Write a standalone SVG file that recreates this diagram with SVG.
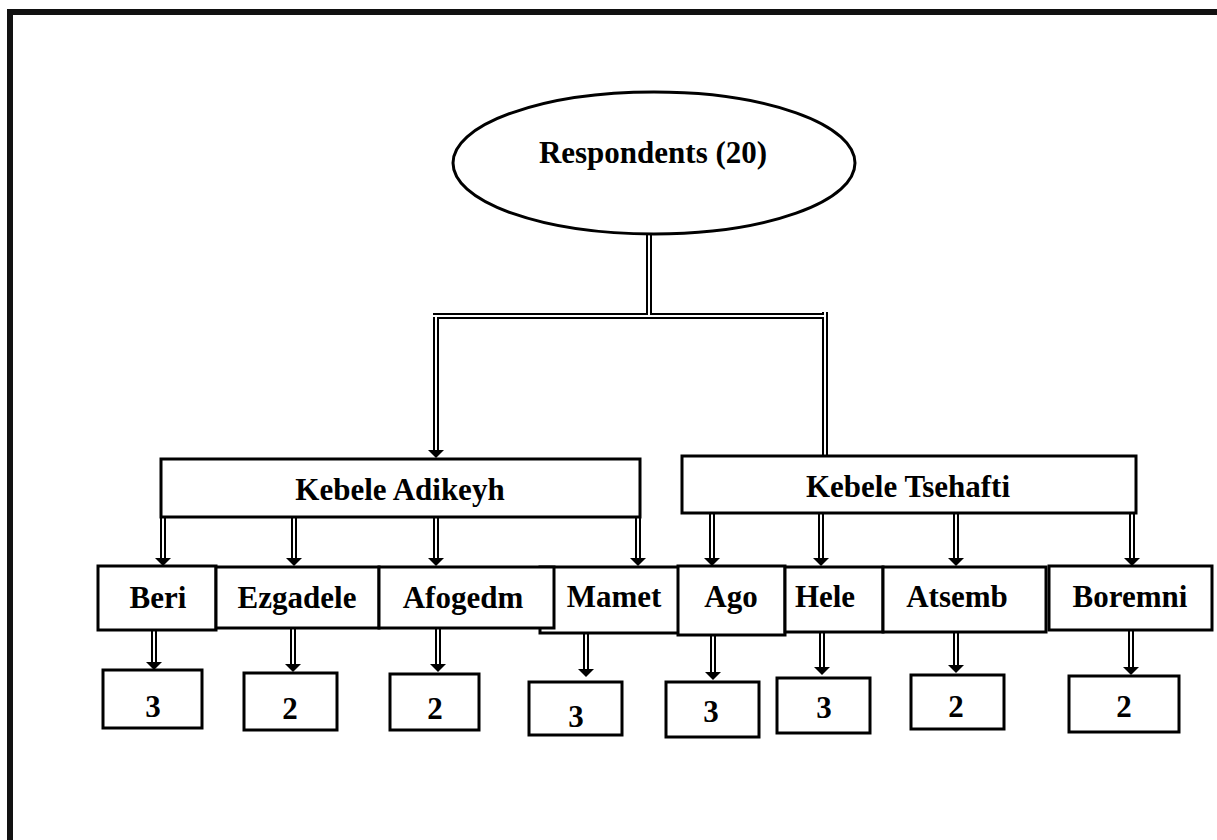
<svg xmlns="http://www.w3.org/2000/svg" width="1217" height="840" viewBox="0 0 1217 840">
<defs>
<style>
.frame{fill:none;stroke:#111;stroke-width:6}
.box{fill:#fff;stroke:#000;stroke-width:3}
.ell{fill:#fff;stroke:#000;stroke-width:3}
.lbl{font-family:"Liberation Serif","Times New Roman",serif;font-weight:bold;font-size:31px;fill:#000;text-anchor:middle}
.dlo{fill:none;stroke:#000;stroke-width:6}
.dli{fill:none;stroke:#fff;stroke-width:2}
.ah{fill:#000}
</style>
</defs>
<rect width="1217" height="840" fill="#fff"/>
<path class="frame" d="M10,845 V12 H1222"/>

<g id="connectors">
  <path class="dlo" d="M649,234 V316 M433,316 H826 M436,316 V450 M825,312 V456"/>
  <path class="dlo" d="M163,517 V558 M294,517 V558 M436,517 V558 M638,517 V558 M712,513 V558 M821,513 V558 M956,513 V558 M1132,513 V558"/>
  <path class="dlo" d="M154,630 V662 M293,628 V664 M438,628 V664 M586,633 V669 M713,635 V672 M822,632 V667 M956,632 V665 M1131,630 V667"/>
  <path class="dli" d="M649,234 V316 M433,316 H826 M436,316 V450 M825,312 V456"/>
  <path class="dli" d="M163,517 V558 M294,517 V558 M436,517 V558 M638,517 V558 M712,513 V558 M821,513 V558 M956,513 V558 M1132,513 V558"/>
  <path class="dli" d="M154,630 V662 M293,628 V664 M438,628 V664 M586,633 V669 M713,635 V672 M822,632 V667 M956,632 V665 M1131,630 V667"/>
  <polygon class="ah" points="428,450 444,450 436,458"/>
  <polygon class="ah" points="155,558 171,558 163,566"/>
  <polygon class="ah" points="286,558 302,558 294,566"/>
  <polygon class="ah" points="428,558 444,558 436,566"/>
  <polygon class="ah" points="630,558 646,558 638,566"/>
  <polygon class="ah" points="704,558 720,558 712,566"/>
  <polygon class="ah" points="813,558 829,558 821,566"/>
  <polygon class="ah" points="948,558 964,558 956,566"/>
  <polygon class="ah" points="1124,558 1140,558 1132,566"/>
  <polygon class="ah" points="146,662 162,662 154,670"/>
  <polygon class="ah" points="285,664 301,664 293,672"/>
  <polygon class="ah" points="430,664 446,664 438,672"/>
  <polygon class="ah" points="578,669 594,669 586,677"/>
  <polygon class="ah" points="705,672 721,672 713,680"/>
  <polygon class="ah" points="814,667 830,667 822,675"/>
  <polygon class="ah" points="948,665 964,665 956,673"/>
  <polygon class="ah" points="1123,667 1139,667 1131,675"/>
</g>

<g id="respondents">
  <ellipse class="ell" cx="654" cy="163" rx="201" ry="71"/>
  <text class="lbl" x="653" y="163">Respondents (20)</text>
</g>
<g id="kebele-adikeyh">
  <rect class="box" x="161" y="459" width="479" height="58"/>
  <text class="lbl" x="400" y="500">Kebele Adikeyh</text>
</g>
<g id="kebele-tsehafti">
  <rect class="box" x="682" y="456" width="454" height="57"/>
  <text class="lbl" x="908" y="497">Kebele Tsehafti</text>
</g>

<g id="mamet">
  <rect class="box" x="540" y="567" width="140" height="66"/>
  <text class="lbl" x="614" y="607">Mamet</text>
</g>
<g id="beri">
  <rect class="box" x="98" y="566" width="118" height="64"/>
  <text class="lbl" x="158" y="608">Beri</text>
</g>
<g id="ezgadele">
  <rect class="box" x="216" y="567" width="163" height="61"/>
  <text class="lbl" x="297" y="608">Ezgadele</text>
</g>
<g id="afogedm">
  <rect class="box" x="379" y="567" width="175" height="61"/>
  <text class="lbl" x="463" y="608">Afogedm</text>
</g>
<g id="ago">
  <rect class="box" x="678" y="566" width="107" height="69"/>
  <text class="lbl" x="731" y="607">Ago</text>
</g>
<g id="hele">
  <rect class="box" x="785" y="567" width="98" height="65"/>
  <text class="lbl" x="825" y="607">Hele</text>
</g>
<g id="atsemb">
  <rect class="box" x="883" y="567" width="163" height="65"/>
  <text class="lbl" x="957" y="607">Atsemb</text>
</g>
<g id="boremni">
  <rect class="box" x="1049" y="566" width="163" height="64"/>
  <text class="lbl" x="1130" y="607">Boremni</text>
</g>

<g id="n-beri">
  <rect class="box" x="103" y="670" width="99" height="58"/>
  <text class="lbl" x="153" y="717">3</text>
</g>
<g id="n-ezgadele">
  <rect class="box" x="244" y="673" width="93" height="57"/>
  <text class="lbl" x="290" y="719">2</text>
</g>
<g id="n-afogedm">
  <rect class="box" x="390" y="674" width="89" height="56"/>
  <text class="lbl" x="435" y="719">2</text>
</g>
<g id="n-mamet">
  <rect class="box" x="529" y="682" width="93" height="53"/>
  <text class="lbl" x="576" y="727">3</text>
</g>
<g id="n-ago">
  <rect class="box" x="666" y="682" width="93" height="55"/>
  <text class="lbl" x="711" y="722">3</text>
</g>
<g id="n-hele">
  <rect class="box" x="777" y="678" width="93" height="55"/>
  <text class="lbl" x="824" y="718">3</text>
</g>
<g id="n-atsemb">
  <rect class="box" x="911" y="675" width="93" height="54"/>
  <text class="lbl" x="956" y="717">2</text>
</g>
<g id="n-boremni">
  <rect class="box" x="1069" y="676" width="110" height="56"/>
  <text class="lbl" x="1124" y="717">2</text>
</g>
</svg>
